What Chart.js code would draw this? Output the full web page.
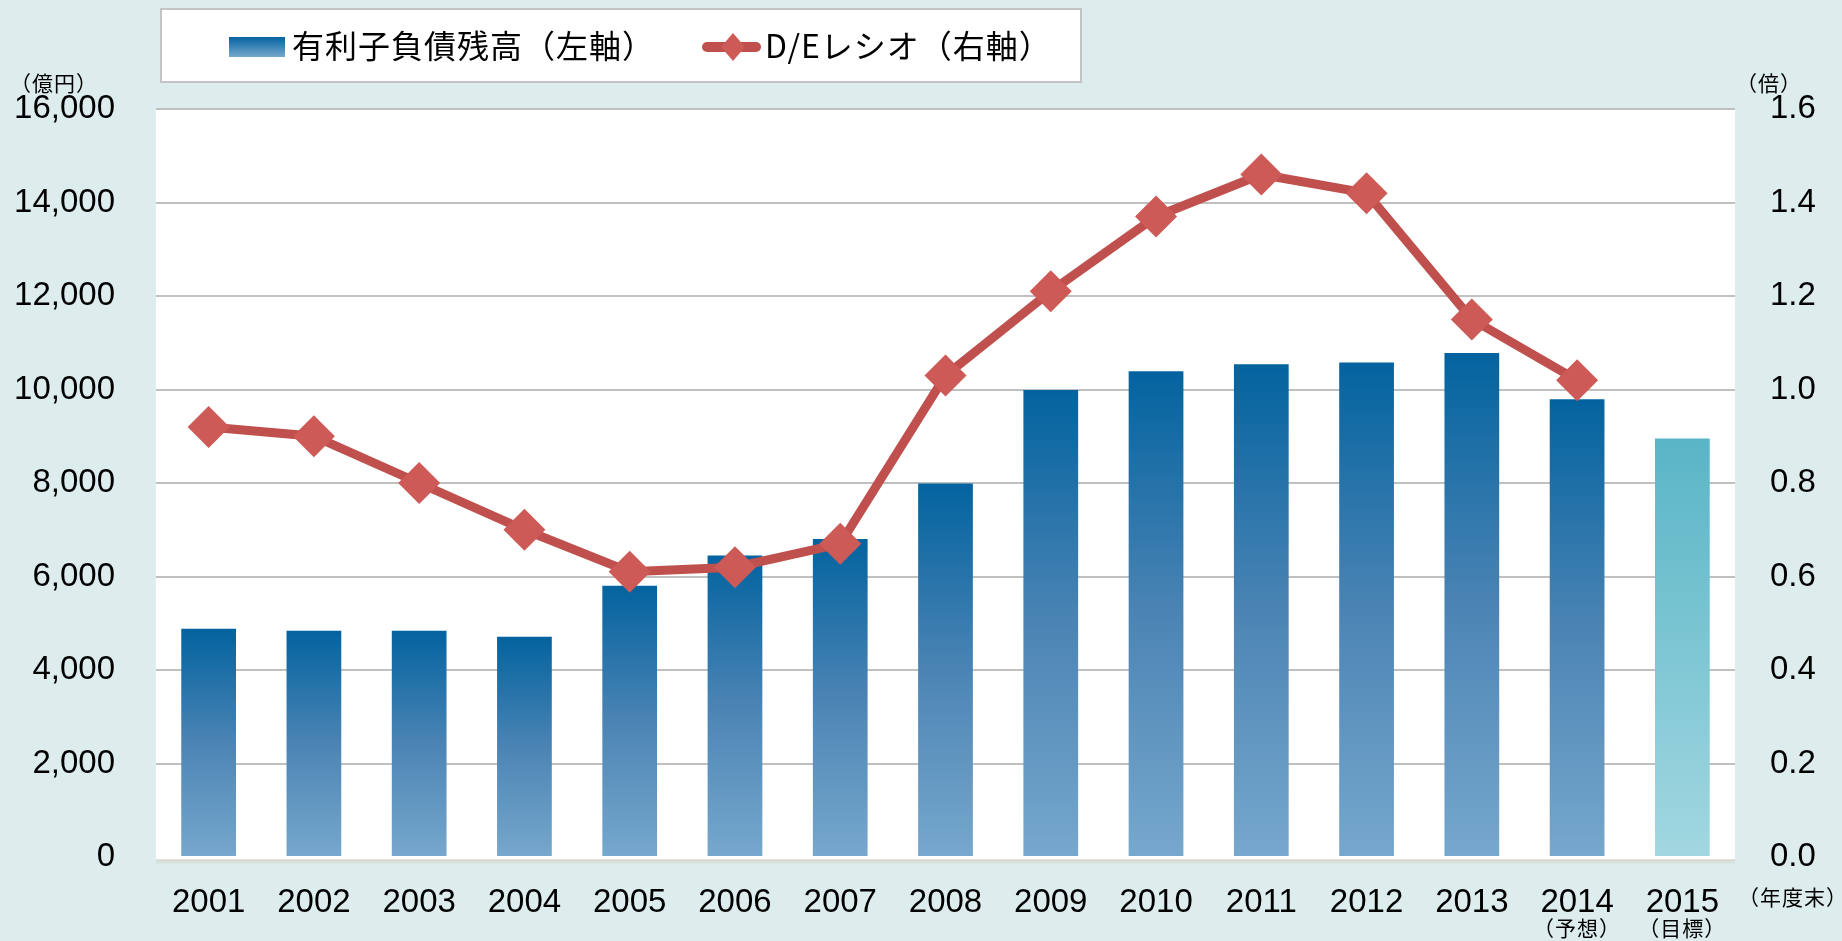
<!DOCTYPE html>
<html>
<head>
<meta charset="utf-8">
<script src="https://cdn.jsdelivr.net/npm/chart.js@4"></script>
<style>
  html, body { margin: 0; padding: 0; background: #ddeced; }
  #wrap { width: 1842px; height: 941px; position: relative; }
</style>
</head>
<body>
<div id="wrap"><canvas id="debtChart"></canvas></div>
<script>
var years = ["2001", "2002", "2003", "2004", "2005", "2006", "2007", "2008",
             "2009", "2010", "2011", "2012", "2013", "2014", "2015"];
// 有利子負債残高（億円）
var debtData = [4880, 4840, 4840, 4710, 5800, 6450, 6800, 7990,
                9990, 10390, 10540, 10580, 10780, 9790, 8950];
// D/Eレシオ（倍）
var deRatioData = [0.92, 0.90, 0.80, 0.70, 0.61, 0.62, 0.67, 1.03,
                   1.21, 1.37, 1.46, 1.42, 1.15, 1.02, null];
var subLabels = { "2014": "（予想）", "2015": "（目標）" };

var numFont = "'Liberation Sans', Arial, 'Noto Sans CJK JP', sans-serif";
var jpFont = "'Noto Sans CJK JP', 'Liberation Sans', sans-serif";

var barFill = function(context) {
  var chart = context.chart;
  if (!chart.chartArea) return "#3a78b0";
  var yScale = chart.scales.y;
  var top = yScale.getPixelForValue(context.raw);
  var bottom = yScale.getPixelForValue(0);
  var g = chart.ctx.createLinearGradient(0, top, 0, bottom);
  if (context.dataIndex === years.length - 1) {
    g.addColorStop(0, "#59b5c6");
    g.addColorStop(1, "#a2d7e1");
  } else {
    g.addColorStop(0, "#03639f");
    g.addColorStop(0.5, "#4b84b4");
    g.addColorStop(1, "#77a8cd");
  }
  return g;
};

// background, white plot area and the extra texts / legend box
var decorations = {
  id: "decorations",
  beforeDraw: function(chart) {
    var ctx = chart.ctx;
    var a = chart.chartArea;
    ctx.save();
    ctx.fillStyle = "#ddeced";
    ctx.fillRect(0, 0, chart.width, chart.height);
    ctx.fillStyle = "#ffffff";
    ctx.fillRect(a.left, a.top, a.right - a.left, a.bottom - a.top + 3);
    var sh = ctx.createLinearGradient(0, a.bottom + 2, 0, a.bottom + 8);
    sh.addColorStop(0, "rgba(200,190,170,0.5)");
    sh.addColorStop(1, "rgba(200,190,170,0)");
    ctx.fillStyle = sh;
    ctx.fillRect(a.left, a.bottom + 2, a.right - a.left, 6);
    ctx.restore();
  },
  afterDraw: function(chart) {
    var ctx = chart.ctx;
    var x = chart.scales.x;
    ctx.save();
    ctx.fillStyle = "#000";
    ctx.textBaseline = "middle";
    ctx.font = "21px " + jpFont;
    ctx.letterSpacing = "1px";
    ctx.textAlign = "left";
    ctx.fillText("（億円）", 10, 83);
    ctx.fillText("（倍）", 1736, 83);
    ctx.fillText("（年度末）", 1738, 897);
    ctx.textAlign = "center";
    years.forEach(function(yr, i) {
      if (subLabels[yr]) {
        ctx.fillText(subLabels[yr], x.getPixelForValue(i), 928);
      }
    });

    // legend box
    ctx.letterSpacing = "0px";
    ctx.fillStyle = "#ffffff";
    ctx.fillRect(161, 9, 920, 73);
    ctx.strokeStyle = "#c4c4c4";
    ctx.lineWidth = 2;
    ctx.strokeRect(161, 9, 920, 73);

    var sw = ctx.createLinearGradient(0, 37, 0, 57);
    sw.addColorStop(0, "#03639f");
    sw.addColorStop(1, "#77a8cd");
    ctx.fillStyle = sw;
    ctx.fillRect(229, 37, 56, 20);

    ctx.strokeStyle = "#c0504d";
    ctx.lineWidth = 10;
    ctx.lineCap = "round";
    ctx.beginPath();
    ctx.moveTo(707, 47);
    ctx.lineTo(756, 47);
    ctx.stroke();
    ctx.fillStyle = "#cd5a56";
    ctx.beginPath();
    ctx.moveTo(733, 33);
    ctx.lineTo(745, 47);
    ctx.lineTo(733, 61);
    ctx.lineTo(721, 47);
    ctx.closePath();
    ctx.fill();

    ctx.fillStyle = "#000";
    ctx.textAlign = "left";
    ctx.font = "32px " + jpFont;
    ctx.letterSpacing = "1px";
    ctx.fillText("有利子負債残高（左軸）", 292, 46);
    ctx.fillText("D/Eレシオ（右軸）", 765, 46);
    ctx.restore();
  }
};

const dataDebt = {
  labels: years,
  datasets: [
    {
      type: "line",
      label: "D/Eレシオ（右軸）",
      data: deRatioData,
      yAxisID: "y1",
      borderColor: "#c0504d",
      borderWidth: 9,
      pointStyle: "rectRot",
      pointRadius: 21,
      pointHoverRadius: 21,
      pointBackgroundColor: "#cd5a56",
      pointBorderWidth: 0,
      tension: 0,
      order: 0,
    },
    {
      type: "bar",
      label: "有利子負債残高（左軸）",
      data: debtData,
      yAxisID: "y",
      backgroundColor: barFill,
      barPercentage: 0.52,
      categoryPercentage: 1,
      order: 1,
    },
  ],
};

const configDebt = {
  data: dataDebt,
  plugins: [decorations],
  options: {
    responsive: true,
    maintainAspectRatio: false,
    animation: false,
    layout: { padding: { top: 109, left: 0, right: 0, bottom: 0 } },
    plugins: {
      legend: { display: false },
      tooltip: { enabled: false },
    },
    scales: {
      x: {
        grid: { display: false },
        border: { display: false },
        ticks: {
          color: "#000",
          padding: 18,
          font: { size: 33, family: numFont },
          maxRotation: 0,
        },
        afterFit: function(scale) { scale.height = 84; },
      },
      y: {
        position: "left",
        min: 0,
        max: 16000,
        border: { display: false },
        grid: {
          color: function(c) { return c.tick.value === 0 ? "rgba(0,0,0,0)" : "#c0c0c0"; },
          lineWidth: 2,
          drawTicks: false,
        },
        ticks: {
          stepSize: 2000,
          color: "#000",
          padding: 41,
          font: { size: 33, family: numFont },
          callback: function(v) { return v.toLocaleString("en-US"); },
        },
        afterFit: function(scale) { scale.width = 156; },
      },
      y1: {
        position: "right",
        min: 0,
        max: 1.6,
        border: { display: false },
        grid: { drawOnChartArea: false, drawTicks: false },
        ticks: {
          stepSize: 0.2,
          color: "#000",
          padding: 35,
          font: { size: 33, family: numFont },
          callback: function(v) { return v.toFixed(1); },
        },
        afterFit: function(scale) { scale.width = 107; },
      },
    },
  },
};

var debtChart = new Chart(
  document.getElementById("debtChart"),
  configDebt
);
</script>
</body>
</html>
